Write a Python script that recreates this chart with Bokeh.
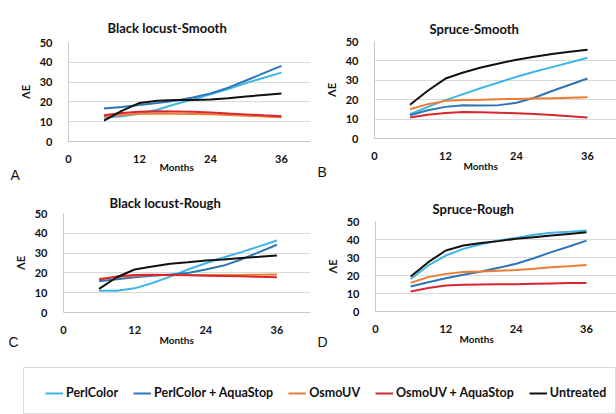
from bokeh.plotting import figure
from bokeh.models import Legend, LegendItem, Range1d, FixedTicker, Title
from bokeh.layouts import column, row
from bokeh.embed import file_html
from bokeh.resources import INLINE

# ---------------- data ----------------
months = [6, 9, 12, 15, 18, 21, 24, 27, 30, 33, 36]
x_ticks = [0, 12, 24, 36]
y_ticks = [0, 10, 20, 30, 40, 50]
series_names = ["PerlColor", "PerlColor + AquaStop", "OsmoUV", "OsmoUV + AquaStop", "Untreated"]
panel_titles = ["Black locust-Smooth", "Spruce-Smooth", "Black locust-Rough", "Spruce-Rough"]
panel_letters = ["A", "B", "C", "D"]
y_label = "ΛE"
x_label = "Months"

# Black locust - Smooth
bls_perlcolor = [12.0, 12.8, 14.0, 16.0, 18.8, 21.2, 23.8, 26.5, 29.5, 32.2, 34.8]
bls_perl_aqua = [16.7, 17.4, 18.4, 19.4, 20.6, 22.2, 24.3, 27.2, 30.8, 34.5, 38.2]
bls_osmouv = [12.5, 13.4, 14.0, 14.1, 14.0, 13.9, 13.7, 13.4, 13.0, 12.6, 12.3]
bls_osmo_aqua = [13.2, 14.4, 15.0, 15.3, 15.2, 15.0, 14.6, 14.2, 13.7, 13.2, 12.8]
bls_untreated = [10.5, 15.5, 19.5, 20.6, 21.0, 21.0, 21.2, 21.8, 22.7, 23.5, 24.2]

# Spruce - Smooth
sps_perlcolor = [12.5, 16.3, 19.8, 22.9, 26.0, 28.9, 31.8, 34.4, 36.8, 39.2, 41.6]
sps_perl_aqua = [12.0, 14.6, 16.3, 17.2, 17.0, 17.2, 18.4, 21.0, 24.5, 27.7, 30.9]
sps_osmouv = [15.1, 17.7, 19.4, 19.9, 20.0, 20.2, 20.4, 20.6, 20.8, 21.0, 21.2]
sps_osmo_aqua = [10.8, 12.2, 13.2, 13.6, 13.5, 13.3, 13.0, 12.6, 12.1, 11.5, 10.8]
sps_untreated = [17.4, 24.6, 30.9, 34.0, 36.6, 38.7, 40.6, 42.1, 43.5, 44.7, 45.7]

# Black locust - Rough
blr_perlcolor = [11.0, 11.0, 12.2, 14.9, 18.1, 21.7, 24.9, 27.8, 30.5, 33.4, 36.4]
blr_perl_aqua = [15.8, 16.8, 17.8, 18.6, 19.2, 20.0, 21.7, 23.7, 26.8, 30.5, 34.2]
blr_osmouv = [17.0, 17.9, 18.6, 18.9, 19.0, 19.0, 19.0, 19.0, 19.0, 19.1, 19.2]
blr_osmo_aqua = [16.6, 18.2, 19.0, 19.1, 19.0, 18.8, 18.6, 18.4, 18.3, 18.0, 17.8]
blr_untreated = [11.9, 17.8, 21.7, 23.2, 24.6, 25.4, 26.3, 26.8, 27.5, 28.1, 28.8]

# Spruce - Rough
spr_perlcolor = [18.1, 25.6, 31.1, 34.8, 37.4, 39.4, 40.9, 42.6, 43.7, 44.3, 45.0]
spr_perl_aqua = [13.9, 16.3, 18.5, 20.4, 22.2, 24.3, 26.5, 29.6, 33.0, 36.1, 39.4]
spr_osmouv = [15.9, 19.1, 20.9, 21.9, 22.2, 22.6, 23.0, 23.7, 24.6, 25.2, 25.9]
spr_osmo_aqua = [11.1, 13.0, 14.4, 14.8, 15.0, 15.1, 15.2, 15.4, 15.6, 15.8, 15.9]
spr_untreated = [19.4, 27.4, 33.9, 36.7, 38.1, 39.1, 40.4, 41.3, 42.2, 43.1, 44.0]

# ---------------- style ----------------
colors = ["#3fb4e6", "#2e75b6", "#ed7d31", "#d7282f", "#111111"]
FONT = "Lato"
GRID = "#d9d9d9"
INK = "#111111"


def make_panel(title, letter, series, w, h, L, R, T, B, ppu_x,
               title_off, title_valign, title_standoff, months_off, months_standoff,
               letter_off, letter_standoff):
    fw = w - L - R
    x_end = fw / ppu_x
    p = figure(width=w, height=h, output_backend="svg", toolbar_location=None,
               x_range=Range1d(0, x_end), y_range=Range1d(0, 50),
               min_border_left=L, min_border_right=R,
               min_border_top=T, min_border_bottom=B)
    p.outline_line_color = None
    p.xgrid.visible = False
    p.ygrid.grid_line_color = GRID
    p.ygrid.ticker = FixedTicker(ticks=y_ticks)
    p.xaxis.ticker = FixedTicker(ticks=x_ticks)
    p.yaxis.ticker = FixedTicker(ticks=y_ticks)
    for ax in (p.xaxis[0], p.yaxis[0]):
        ax.axis_line_color = "#c8c8c8"
        ax.major_tick_line_color = None
        ax.minor_tick_line_color = None
        ax.major_label_text_font = FONT
        ax.major_label_text_font_style = "bold"
        ax.major_label_text_font_size = "11px"
        ax.major_label_text_color = INK
    p.xaxis.major_label_standoff = 7
    p.yaxis.major_label_standoff = 10
    p.yaxis.axis_label = y_label
    p.yaxis.axis_label_standoff = 5
    p.yaxis.axis_label_text_font = FONT
    p.yaxis.axis_label_text_font_style = "bold"
    p.yaxis.axis_label_text_font_size = "11px"
    p.yaxis.axis_label_text_color = INK

    for vals, c in zip(series, colors):
        p.line(months, vals, line_color=c, line_width=2)

    p.add_layout(Title(text=title, align="left", offset=title_off,
                       vertical_align=title_valign, standoff=title_standoff,
                       text_font=FONT, text_font_style="bold",
                       text_font_size="13px", text_color=INK), "above")
    p.add_layout(Title(text=x_label, align="left", offset=months_off,
                       vertical_align="top", standoff=months_standoff, text_font=FONT,
                       text_font_style="bold", text_font_size="10px",
                       text_color=INK), "below")
    p.add_layout(Title(text=letter, align="left", offset=letter_off,
                       vertical_align="top", standoff=letter_standoff,
                       text_font="Liberation Sans", text_font_style="normal",
                       text_font_size="14px", text_color=INK), "below")
    return p


pA = make_panel(panel_titles[0], panel_letters[0],
                [bls_perlcolor, bls_perl_aqua, bls_osmouv, bls_osmo_aqua, bls_untreated],
                314, 193, 68, 4, 42, 52, 213 / 36,
                39, "bottom", 13, 91, -10, -58, -5)
pB = make_panel(panel_titles[1], panel_letters[1],
                [sps_perlcolor, sps_perl_aqua, sps_osmouv, sps_osmo_aqua, sps_untreated],
                302, 193, 60, 0, 41, 55, 213 / 36,
                55, "bottom", 10, 89, -6, -57, -14)
pC = make_panel(panel_titles[2], panel_letters[2],
                [blr_perlcolor, blr_perl_aqua, blr_osmouv, blr_osmo_aqua, blr_untreated],
                314, 167, 63, 4, 20, 48, 213.4 / 36,
                46, "top", 2, 96, -6, -55, -21)
pD = make_panel(panel_titles[3], panel_letters[3],
                [spr_perlcolor, spr_perl_aqua, spr_osmouv, spr_osmo_aqua, spr_untreated],
                302, 167, 61, 0, 28, 49, 211 / 36,
                57, "top", 5, 84, -5, -58, -21)

# ---------------- legend ----------------
pL = figure(width=616, height=54, output_backend="svg", toolbar_location=None,
            x_axis_type=None, y_axis_type=None,
            x_range=Range1d(0, 1), y_range=Range1d(100, 101),
            min_border_left=23, min_border_right=0, min_border_top=7, min_border_bottom=0)
pL.grid.visible = False
pL.outline_line_color = GRID
items = []
for name, c, vals in zip(series_names, colors,
                         [bls_perlcolor, bls_perl_aqua, bls_osmouv, bls_osmo_aqua, bls_untreated]):
    r = pL.line(months, vals, line_color=c, line_width=2)
    items.append(LegendItem(label=name, renderers=[r]))
leg = Legend(items=items, orientation="horizontal", location=(22, 14),
             border_line_color=None, background_fill_alpha=0,
             padding=0, margin=0, spacing=15, glyph_width=18, glyph_height=14,
             label_height=14, label_standoff=3,
             label_text_font=FONT, label_text_font_style="bold",
             label_text_font_size="12.5px", label_text_color=INK)
pL.add_layout(leg)

layout = column(row(column(pA), column(pB)), row(column(pC), column(pD)), pL)

with open("out.html", "w") as f:
    f.write(file_html(layout, INLINE))
